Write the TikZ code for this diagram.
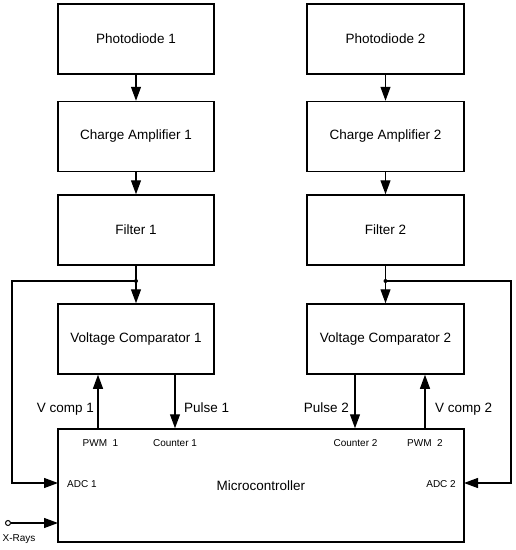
\documentclass[tikz,border=0pt]{standalone}
\usepackage{fontspec}
\setmainfont{Liberation Sans}
\usetikzlibrary{arrows.meta}
\begin{document}
\begin{tikzpicture}[x=1pt,y=-1pt,
  blk/.style={draw,line width=1.5pt,minimum width=156pt,minimum height=70pt,inner sep=0pt,font=\fontsize{13.5}{15}\selectfont},
  arr/.style={line width=1.2pt,-{Triangle[width=10pt,length=14pt]}},
  ln/.style={line width=1.2pt},
  big/.style={font=\fontsize{13.5}{15}\selectfont,inner sep=0pt},
  small/.style={font=\fontsize{10}{12}\selectfont,inner sep=0pt}]
\useasboundingbox (0,0) rectangle (516,550);
% left column
\node[blk] (pd1) at (136,39) {Photodiode 1};
\node[blk] (ca1) at (136,136.5) {Charge Amplifier 1};
\node[blk] (f1) at (136,230) {Filter 1};
\node[blk] (vc1) at (136,339) {Voltage Comparator 1};
% right column
\node[blk,minimum width=157pt] (pd2) at (385.5,39) {Photodiode 2};
\node[blk,minimum width=157pt] (ca2) at (385.5,136.5) {Charge Amplifier 2};
\node[blk,minimum width=157pt] (f2) at (385.5,230) {Filter 2};
\node[blk,minimum width=157pt] (vc2) at (385.5,339) {Voltage Comparator 2};
% microcontroller
\node[blk,minimum width=406pt,minimum height=113pt] (mc) at (261,485.5) {Microcontroller};
% chain arrows
\draw[arr] (pd1) -- (ca1);
\draw[arr] (ca1) -- (f1);
\draw[arr] (f1) -- (vc1);
\draw[arr] (pd2) -- (ca2);
\draw[arr] (ca2) -- (f2);
\draw[arr] (f2) -- (vc2);
% junctions and ADC feedback
\coordinate (j1) at (136,281);
\coordinate (j2) at (385.5,281);
\coordinate (l1) at (12,281);
\coordinate (r2) at (511,281);
\coordinate (adc1) at (58,483);
\coordinate (adc2) at (464,483);
\fill (j1) circle (2pt);
\fill (j2) circle (2pt);
\draw[arr] (j1) -- (l1) |- (adc1);
\draw[arr] (j2) -- (r2) |- (adc2);
% comparator <-> microcontroller
\draw[arr] (mc.north -| 98,0) -- (vc1.south -| 98,0);
\draw[arr] (vc1.south -| 175,0) -- (mc.north -| 175,0);
\draw[arr] (vc2.south -| 355,0) -- (mc.north -| 355,0);
\draw[arr] (mc.north -| 425,0) -- (vc2.south -| 425,0);
% labels
\node[big,anchor=east] (lv1) at (94,409) {V comp 1};
\node[big,anchor=west] (lp1) at (184,408) {Pulse 1};
\node[big,anchor=east] (lp2) at (349,408) {Pulse 2};
\node[big,anchor=west] (lv2) at (435,409) {V comp 2};
\node[small] (pwm1) at (100.5,443) {PWM\ \ 1};
\node[small] (cnt1) at (175,443) {Counter 1};
\node[small] (cnt2) at (355.5,443) {Counter 2};
\node[small] (pwm2) at (425,443) {PWM\ \ 2};
\node[small,anchor=west] (a1) at (67,484) {ADC 1};
\node[small,anchor=east] (a2) at (456,484) {ADC 2};
% X-rays input
\node[draw,circle,line width=1pt,minimum size=5pt,inner sep=0pt] (xr) at (8,523) {};
\coordinate (xin) at (58,523);
\draw[arr] (xr) -- (xin);
\node[small] (xl) at (19,539) {X-Rays};
\end{tikzpicture}
\end{document}
